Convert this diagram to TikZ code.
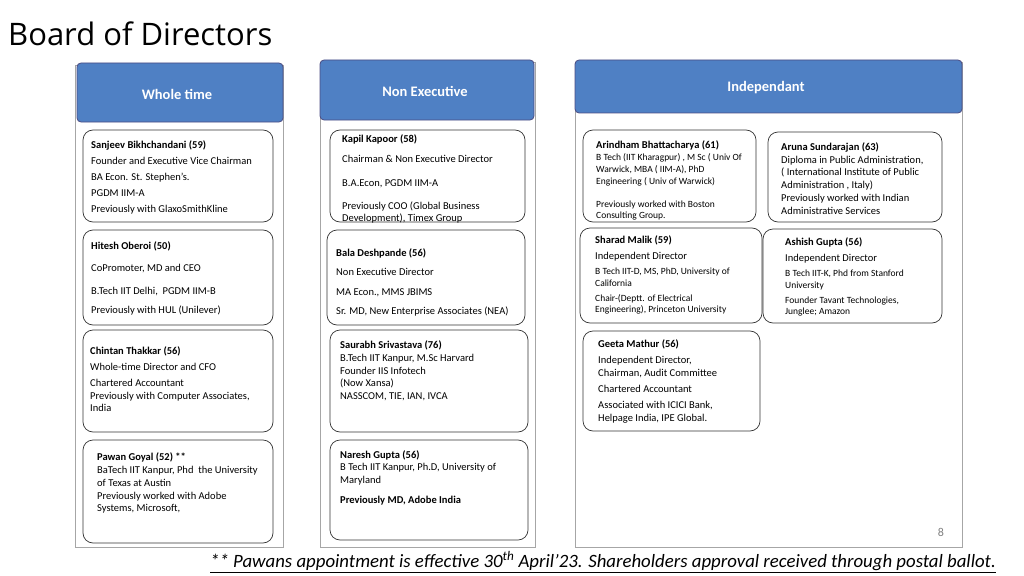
\documentclass[tikz,border=0pt]{standalone}
\usepackage{fontspec}
\setmainfont{Carlito}
\newfontfamily\titlefont{Open Sans}
\begin{document}
\begin{tikzpicture}[x=1pt,y=-1pt,
  panel/.style={draw=gray!70,line width=0.8pt},
  head/.style={draw=blue!30!black!70,fill=hdr,rounded corners=4pt,line width=0.8pt},
  htxt/.style={text=white,font=\fontsize{14.5}{16}\selectfont\bfseries},
  card/.style={draw=black!80,rounded corners=10pt,line width=0.7pt},
  txt/.style={anchor=base west,inner sep=0pt,font=\fontsize{10.5}{12}\selectfont},
  sm/.style={txt,font=\fontsize{9.5}{11}\selectfont},
  bd/.style={txt,font=\fontsize{10.5}{12}\selectfont\bfseries}]
\definecolor{hdr}{HTML}{4F80C4}
\newcommand\tl[5][txt]{\node[#1] (#2) at (#3) {#4#5};}
\useasboundingbox (0,0) rectangle (1024,575);
\node[anchor=west,inner sep=0pt,font=\titlefont\fontsize{31}{34}\selectfont] (title) at (8,34) {Board of Directors};
% panels
\draw[panel] (75,65) rectangle (283,547);
\draw[panel] (320,62) rectangle (535,547);
\draw[panel] (575,62) rectangle (962,547);
\draw[head] (77,63) rectangle (283,122);
\draw[head] (320,60) rectangle (534,120);
\draw[head] (575,60) rectangle (962,113);
\node[htxt] (h1) at (177,94) {Whole time};
\node[htxt] (h2) at (425,91) {Non Executive};
\node[htxt] (h3) at (766,88) {Independant};
% cards
\draw[card] (83,130) rectangle (273,222);
\draw[card] (83,230) rectangle (273,325);
\draw[card] (83,330) rectangle (273,432);
\draw[card] (83,440) rectangle (273,543);
\draw[card] (330,130) rectangle (525,222);
\draw[card] (327,230) rectangle (525,325);
\draw[card] (330,330) rectangle (528,432);
\draw[card] (330,440) rectangle (528,540);
\draw[card] (583,130) rectangle (756,222);
\draw[card] (768,132) rectangle (942,222);
\draw[card] (580,228) rectangle (762,323);
\draw[card] (763,229) rectangle (942,323);
\draw[card] (583,331) rectangle (760,431);
% column 1
\tl[bd]{a1}{91,148}{}{Sanjeev Bikhchandani (59)}
\tl{a2}{91,164}{}{Founder and Executive Vice Chairman}
\tl{a3}{91,180}{}{BA Econ. St. Stephen’s.}
\tl{a4}{91,196}{}{PGDM IIM-A}
\tl{a5}{91,212}{}{Previously with GlaxoSmithKline}
\tl[bd]{b1}{91,249}{}{Hitesh Oberoi (50)}
\tl{b2}{91,271}{}{CoPromoter, MD and CEO}
\tl{b3}{91,294}{}{B.Tech IIT Delhi,\ \ PGDM IIM-B}
\tl{b4}{91,313}{}{Previously with HUL (Unilever)}
\tl[bd]{c1}{90,354}{}{Chintan Thakkar (56)}
\tl{c2}{90,370}{}{Whole-time Director and CFO}
\tl{c3}{90,386}{}{Chartered Accountant}
\tl{c4}{90,399}{}{Previously with Computer Associates,}
\tl{c5}{90,411}{}{India}
\tl[bd]{d1}{97,460}{}{Pawan Goyal (52) **}
\tl{d2}{97,473}{}{BaTech IIT Kanpur, Phd\ \ the University}
\tl{d3}{97,486}{}{of Texas at Austin}
\tl{d4}{97,499}{}{Previously worked with Adobe}
\tl{d5}{97,511}{}{Systems, Microsoft,}
% column 2
\tl[bd]{e1}{342,142}{}{Kapil Kapoor (58)}
\tl{e2}{342,162}{}{Chairman \& Non Executive Director}
\tl{e3}{342,186}{}{B.A.Econ, PGDM IIM-A}
\tl{e4}{342,209}{}{Previously COO (Global Business}
\tl{e5}{342,221}{}{Development), Timex Group}
\tl[bd]{f1}{336,256}{}{Bala Deshpande (56)}
\tl{f2}{336,275}{}{Non Executive Director}
\tl{f3}{336,295}{}{MA Econ., MMS JBIMS}
\tl{f4}{336,314}{}{Sr. MD, New Enterprise Associates (NEA)}
\tl[bd]{g1}{340,348}{}{Saurabh Srivastava (76)}
\tl{g2}{340,361}{}{B.Tech IIT Kanpur, M.Sc Harvard}
\tl{g3}{340,374}{}{Founder IIS Infotech}
\tl{g4}{340,386}{}{(Now Xansa)}
\tl{g5}{340,399}{}{NASSCOM, TIE, IAN, IVCA}
\tl[bd]{k1}{340,458}{}{Naresh Gupta (56)}
\tl{k2}{340,470}{}{B Tech IIT Kanpur, Ph.D, University of}
\tl{k3}{340,483}{}{Maryland}
\tl[bd]{k4}{340,503}{}{Previously MD, Adobe India}
% column 3
\tl[bd]{i1}{596,148}{}{Arindham Bhattacharya (61)}
\tl[sm]{i2}{596,160}{}{B Tech (IIT Kharagpur) , M Sc ( Univ Of}
\tl[sm]{i3}{596,172}{}{Warwick, MBA ( IIM-A), PhD}
\tl[sm]{i4}{596,184}{}{Engineering ( Univ of Warwick)}
\tl[sm]{i5}{596,207}{}{Previously worked with Boston}
\tl[sm]{i6}{596,218}{}{Consulting Group.}
\tl[bd]{j1}{781,150}{}{Aruna Sundarajan (63)}
\tl{j2}{781,163}{}{Diploma in Public Administration,}
\tl{j3}{781,175}{}{( International Institute of Public}
\tl{j4}{781,188}{}{Administration , Italy)}
\tl{j5}{781,201}{}{Previously worked with Indian}
\tl{j6}{781,214}{}{Administrative Services}
\tl[bd]{m1}{595,243}{}{Sharad Malik (59)}
\tl{m2}{595,259}{}{Independent Director}
\tl[sm]{m3}{595,274}{}{B Tech IIT-D, MS, PhD, University of}
\tl[sm]{m4}{595,286}{}{California}
\tl[sm]{m5}{595,301}{}{Chair-(Deptt. of Electrical}
\tl[sm]{m6}{595,312}{}{Engineering), Princeton University}
\tl[bd]{n1}{785,245}{}{Ashish Gupta (56)}
\tl{n2}{785,261}{}{Independent Director}
\tl[sm]{n3}{785,276}{}{B Tech IIT-K, Phd from Stanford}
\tl[sm]{n4}{785,288}{}{University}
\tl[sm]{n5}{785,303}{}{Founder Tavant Technologies,}
\tl[sm]{n6}{785,314}{}{Junglee; Amazon}
\tl[bd]{o1}{598,347}{}{Geeta Mathur (56)}
\tl{o2}{598,363}{}{Independent Director,}
\tl{o3}{598,376}{}{Chairman, Audit Committee}
\tl{o4}{598,392}{}{Chartered Accountant}
\tl{o5}{598,408}{}{Associated with ICICI Bank,}
\tl{o6}{598,421}{}{Helpage India, IPE Global.}
\node[font=\fontsize{12}{14}\selectfont,text=gray] (pg) at (941,532) {8};
\node[font=\fontsize{18.8}{20}\selectfont\itshape,inner sep=0pt] (foot) at (603,562)
 {\underline{** Pawans appointment is effective 30\textsuperscript{th} April’23. Shareholders approval received through postal ballot.}};
\end{tikzpicture}
\end{document}
